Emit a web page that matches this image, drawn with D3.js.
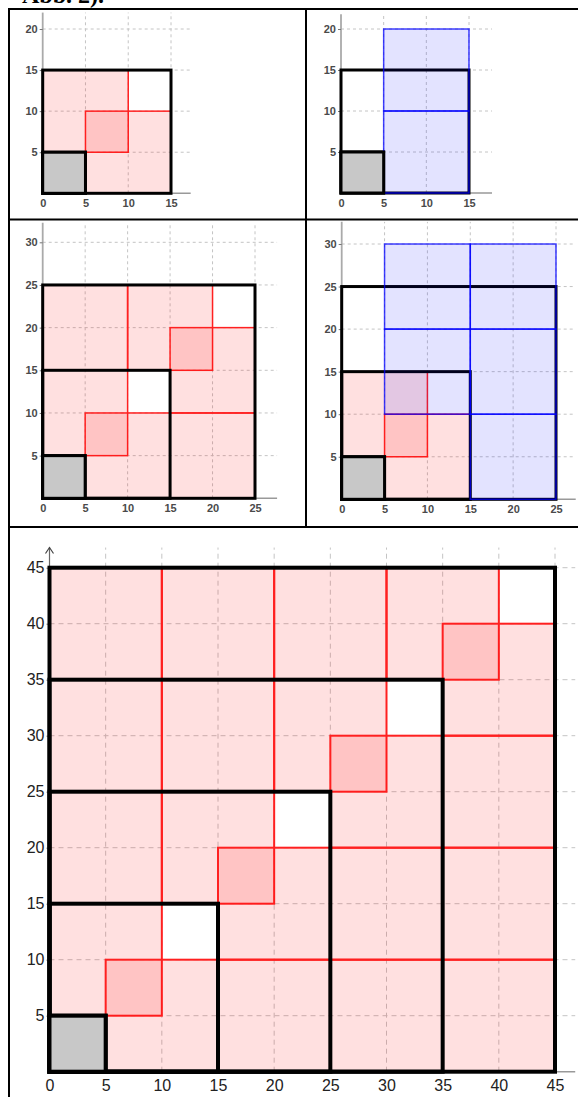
<!DOCTYPE html>
<html lang="de">
<head>
<meta charset="UTF-8">
<title>Abb. 2</title>
<script src="https://cdn.jsdelivr.net/npm/d3@7"></script>
<style>
  html, body { margin: 0; padding: 0; background: #fff; overflow: hidden; }
  svg { display: block; }
  .tick text { font-family: "Liberation Sans", Arial, sans-serif; }
  .grid line { stroke: #c4c4c4; stroke-width: 1; }
</style>
</head>
<body>
<svg id="chart" width="578" height="1097"></svg>
<script>
// tick values
const xTicks15 = [0, 5, 10, 15]
const yTicks20 = [5, 10, 15, 20]
const xTicks25 = [0, 5, 10, 15, 20, 25]
const yTicks30 = [5, 10, 15, 20, 25, 30]
const xTicks45 = [0, 5, 10, 15, 20, 25, 30, 35, 40, 45]
const yTicks45 = [5, 10, 15, 20, 25, 30, 35, 40, 45]

// black square outlines (side length, anchored at the origin)
const squares15 = [15, 5]
const squares25 = [25, 15, 5]
const squares45 = [45, 35, 25, 15, 5]
const graySide = 5

// pink rectangles [x0, y0, x1, y1]
const pink15 = [[0, 5, 10, 15], [5, 0, 15, 10]]
const pink25 = [[0, 5, 10, 25], [5, 0, 25, 10], [10, 15, 20, 25], [15, 10, 25, 20]]
const pink45 = [
  [0, 5, 10, 45], [5, 0, 45, 10],
  [10, 15, 20, 45], [15, 10, 45, 20],
  [20, 25, 30, 45], [25, 20, 45, 30],
  [30, 35, 40, 45], [35, 30, 45, 40]
]

// blue rectangles [x0, y0, x1, y1]
const blue15 = [[5, 0, 15, 10], [5, 10, 15, 20]]
const blue25 = [[5, 10, 15, 20], [5, 20, 15, 30], [15, 0, 25, 10], [15, 10, 25, 20], [15, 20, 25, 30]]

// panel layout (pixels)
const panels = [
  { px: [42.7, 171], py: [193.3, 29], xd: 15, yd: 20, xEnd: 17.3, yEnd: 22,
    xTicks: xTicks15, yTicks: yTicks20, squares: squares15, pink: pink15, blue: [] },
  { px: [341, 469], py: [193, 29], xd: 15, yd: 20, xEnd: 17.7, yEnd: 21.8,
    xTicks: xTicks15, yTicks: yTicks20, squares: squares15, pink: [], blue: blue15 },
  { px: [42.7, 255], py: [498.3, 242.3], xd: 25, yd: 30, xEnd: 27.6, yEnd: 32.3,
    xTicks: xTicks25, yTicks: yTicks30, squares: squares25, pink: pink25, blue: [] },
  { px: [341.7, 556], py: [499.3, 244], xd: 25, yd: 30, xEnd: 27.3, yEnd: 32.6,
    xTicks: xTicks25, yTicks: yTicks30, squares: squares25, pink: pink15, blue: blue25 },
  { px: [49.5, 555], py: [1071.7, 567.7], xd: 45, yd: 45, xEnd: 46.8, yEnd: 46.8,
    xTicks: xTicks45, yTicks: yTicks45, squares: squares45, pink: pink45, blue: [], big: true }
]

const svg = d3.select('#chart')

// caption, cut off at the top as in the source scan
svg.append('text')
  .attr('x', 22).attr('y', 3)
  .attr('font-family', '"Liberation Serif", "Times New Roman", serif')
  .attr('font-weight', 'bold')
  .attr('font-size', 24)
  .text('Abb. 2).')

panels.forEach(p => {
  const x = d3.scaleLinear().domain([0, p.xd]).range(p.px)
  const y = d3.scaleLinear().domain([0, p.yd]).range(p.py)
  const g = svg.append('g')
  const big = !!p.big

  // dashed grid
  const grid = g.append('g').attr('class', 'grid')
    .attr('stroke-dasharray', big ? '5,4' : '3,3')
  grid.selectAll('.v').data(p.xTicks.filter(d => d > 0)).enter().append('line')
    .attr('x1', d => x(d)).attr('x2', d => x(d))
    .attr('y1', y(0)).attr('y2', y(p.yEnd))
  grid.selectAll('.h').data(p.yTicks).enter().append('line')
    .attr('x1', x(0)).attr('x2', x(p.xEnd))
    .attr('y1', d => y(d)).attr('y2', d => y(d))

  // axis lines
  g.append('line')
    .attr('x1', x(0)).attr('x2', x(p.xEnd)).attr('y1', y(0)).attr('y2', y(0))
    .attr('stroke', '#999').attr('stroke-width', 1.5)
  g.append('line')
    .attr('x1', x(0)).attr('x2', x(0)).attr('y1', y(0)).attr('y2', y(p.yEnd))
    .attr('stroke', big ? '#666' : '#aaa').attr('stroke-width', big ? 1.2 : 1.8)
  if (big) {
    const ax = x(0), ay = y(p.yEnd)
    g.append('path')
      .attr('d', `M${ax - 4},${ay + 6}L${ax},${ay}L${ax + 4},${ay + 6}`)
      .attr('fill', 'none').attr('stroke', '#444').attr('stroke-width', 1.2)
  }

  // tick labels
  const fs = big ? 16 : 11
  const xAxis = d3.axisBottom(x).tickValues(p.xTicks).tickSize(0).tickPadding(big ? 8 : 6)
  g.append('g').attr('transform', `translate(0,${y(0)})`).call(xAxis)
    .call(a => a.select('.domain').remove())
    .selectAll('text').attr('font-size', fs).attr('fill', big ? '#222' : '#4a4a4a')
    .attr('font-weight', big ? 'normal' : 'bold')
  const yAxis = d3.axisLeft(y).tickValues(p.yTicks).tickSize(3).tickPadding(2)
  const ya = g.append('g').attr('transform', `translate(${x(0)},0)`).call(yAxis)
    .call(a => a.select('.domain').remove())
  ya.selectAll('line').attr('stroke', '#777')
  ya.selectAll('text').attr('font-size', fs).attr('fill', big ? '#222' : '#4a4a4a')
    .attr('font-weight', big ? 'normal' : 'bold')

  // pink rectangles
  g.selectAll('.pink').data(p.pink).enter().append('rect')
    .attr('x', d => x(d[0])).attr('y', d => y(d[3]))
    .attr('width', d => x(d[2]) - x(d[0])).attr('height', d => y(d[1]) - y(d[3]))
    .attr('fill', 'rgba(255,0,0,0.12)')
    .attr('stroke', '#ff2020').attr('stroke-width', big ? 2 : 1.5)

  // black square outlines
  g.selectAll('.sq').data(p.squares).enter().append('rect')
    .attr('x', x(0)).attr('y', d => y(d))
    .attr('width', d => x(d) - x(0)).attr('height', d => y(0) - y(d))
    .attr('fill', 'none').attr('stroke', '#000').attr('stroke-width', big ? 4 : 3)

  // blue rectangles
  g.selectAll('.blue').data(p.blue).enter().append('rect')
    .attr('x', d => x(d[0])).attr('y', d => y(d[3]))
    .attr('width', d => x(d[2]) - x(d[0])).attr('height', d => y(d[1]) - y(d[3]))
    .attr('fill', 'rgba(0,0,255,0.11)')
    .attr('stroke', 'rgba(0,0,255,0.75)').attr('stroke-width', 1.5)

  // grey unit square
  g.append('rect')
    .attr('x', x(0)).attr('y', y(graySide))
    .attr('width', x(graySide) - x(0)).attr('height', y(0) - y(graySide))
    .attr('fill', '#c8c8c8').attr('stroke', '#000').attr('stroke-width', big ? 4 : 3)
})

// table borders
const border = svg.append('g').attr('stroke', '#000').attr('stroke-width', 2)
border.append('line').attr('x1', 9).attr('x2', 9).attr('y1', 8).attr('y2', 1097)
border.append('line').attr('x1', 8).attr('x2', 578).attr('y1', 9).attr('y2', 9)
border.append('line').attr('x1', 306).attr('x2', 306).attr('y1', 9).attr('y2', 527)
border.append('line').attr('x1', 8).attr('x2', 578).attr('y1', 219.5).attr('y2', 219.5)
border.append('line').attr('x1', 8).attr('x2', 578).attr('y1', 527).attr('y2', 527)
</script>
</body>
</html>
